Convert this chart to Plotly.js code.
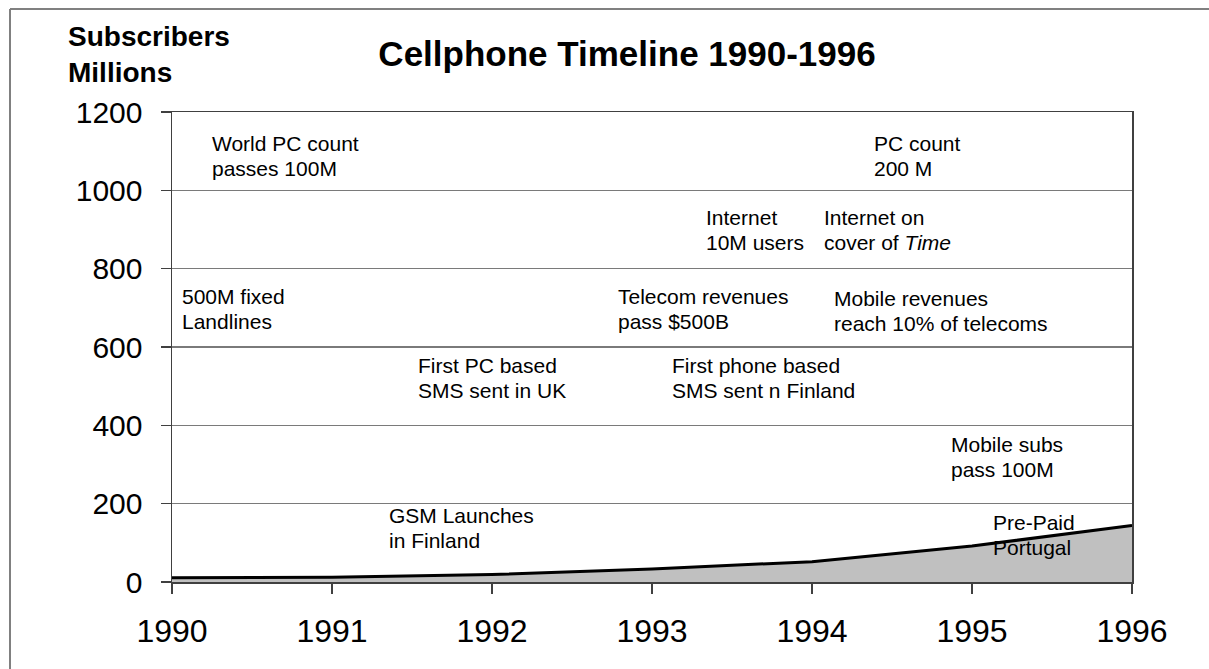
<!DOCTYPE html>
<html>
<head>
<meta charset="utf-8">
<script src="https://cdn.plot.ly/plotly-3.0.1.min.js"></script>
<style>
  html, body { margin: 0; padding: 0; background: #ffffff; }
  #chart { width: 1209px; height: 669px; }
</style>
</head>
<body>
<div id="chart"></div>
<script>
// ---- data ----
const years = [1990, 1991, 1992, 1993, 1994, 1995, 1996];
const subscribers = [11, 12, 19, 33, 52, 92, 144];
const xTickVals = [1990, 1991, 1992, 1993, 1994, 1995, 1996];
const xTickText = ['1990', '1991', '1992', '1993', '1994', '1995', '1996'];
const yTickVals = [0, 200, 400, 600, 800, 1000, 1200];
const yTickText = ['0', '200', '400', '600', '800', '1000', '1200'];

// event labels (text lines)
const labelLines = [
  ['World PC count', 'passes 100M'],
  ['PC count', '200 M'],
  ['Internet', '10M users'],
  ['Internet on', 'cover of <i>Time</i>'],
  ['500M fixed', 'Landlines'],
  ['Telecom revenues', 'pass $500B'],
  ['Mobile revenues', 'reach 10% of telecoms'],
  ['First PC based', 'SMS sent in UK'],
  ['First phone based', 'SMS sent n Finland'],
  ['Mobile subs', 'pass 100M'],
  ['GSM Launches', 'in Finland'],
  ['Pre-Paid', 'Portugal']
];
// label anchor positions (layout, in axis units)
const labelX = [1990.238, 1994.375, 1993.325, 1994.063, 1990.05, 1992.775,
                1994.125, 1991.525, 1993.113, 1994.857, 1991.344, 1995.119];
const labelY = [1119, 1119, 931, 931, 729, 729, 724, 554, 554, 352, 171, 153];

const annotations = [];
labelLines.forEach((lines, i) => {
  lines.forEach((t, j) => {
    annotations.push({
      x: labelX[i], y: labelY[i], xref: 'x', yref: 'y',
      text: t, showarrow: false, xanchor: 'left', yanchor: 'middle',
      yshift: -25 * j,
      font: { family: 'Liberation Sans, Arial, sans-serif', size: 21, color: '#000' }
    });
  });
});
annotations.push({
  x: -0.1105, y: 1.122, xref: 'paper', yref: 'paper',
  text: 'Subscribers<br>Millions', showarrow: false, xanchor: 'left', yanchor: 'middle',
  align: 'left',
  font: { family: 'Liberation Sans, Arial, sans-serif', size: 28, color: '#000', weight: 700 }
});

const trace = {
  x: years, y: subscribers, type: 'scatter', mode: 'lines',
  fill: 'tozeroy', fillcolor: '#c0c0c0',
  line: { color: '#000000', width: 3 },
  hoverinfo: 'x+y'
};

const layout = {
  width: 1209, height: 669,
  margin: { l: 172, r: 77, t: 112, b: 87 },
  paper_bgcolor: '#ffffff', plot_bgcolor: '#ffffff',
  showlegend: false,
  title: {
    text: 'Cellphone Timeline 1990-1996',
    x: 0.474, xref: 'paper', xanchor: 'center',
    y: 0.919, yref: 'container', yanchor: 'middle',
    font: { family: 'Liberation Sans, Arial, sans-serif', size: 35, color: '#000', weight: 700 }
  },
  xaxis: {
    range: [1990, 1996], tickmode: 'array', tickvals: xTickVals, ticktext: xTickText,
    showgrid: false, zeroline: false,
    showline: true, linecolor: '#404040', linewidth: 1.5, mirror: true,
    ticks: 'outside', ticklen: 10, tickwidth: 1.5, tickcolor: '#404040',
    ticklabelstandoff: 10,
    tickfont: { family: 'Liberation Sans, Arial, sans-serif', size: 32, color: '#000' },
    fixedrange: true
  },
  yaxis: {
    range: [0, 1200], tickmode: 'array', tickvals: yTickVals, ticktext: yTickText,
    showgrid: true, gridcolor: '#7a7a7a', gridwidth: 1.5,
    zeroline: false,
    showline: true, linecolor: '#404040', linewidth: 1.5, mirror: true,
    ticks: 'outside', ticklen: 10, tickwidth: 1.5, tickcolor: '#404040',
    ticklabelstandoff: 12,
    tickfont: { family: 'Liberation Sans, Arial, sans-serif', size: 30, color: '#000' },
    fixedrange: true
  },
  shapes: [
    { type: 'line', xref: 'paper', yref: 'paper', x0: -0.16875, x1: 1.2, y0: 1.219, y1: 1.219,
      line: { color: '#808080', width: 2 } },
    { type: 'line', xref: 'paper', yref: 'paper', x0: -0.16875, x1: -0.16875, y0: 1.219, y1: -0.3,
      line: { color: '#808080', width: 2 } }
  ],
  annotations: annotations
};

Plotly.newPlot('chart', [trace], layout, { displayModeBar: false, staticPlot: true });
</script>
</body>
</html>
